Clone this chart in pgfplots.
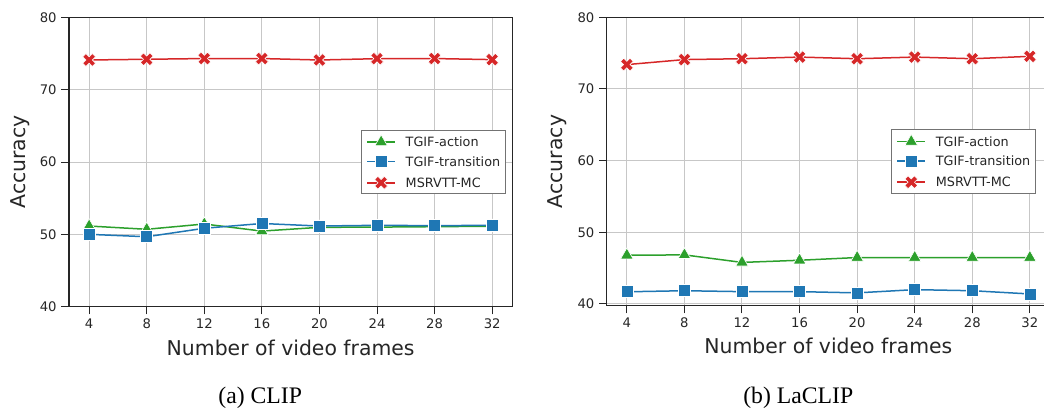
\documentclass[border=0pt]{standalone}
\usepackage{fontspec}
\setmainfont{DejaVu Sans}
\newfontfamily\capfont{Liberation Serif}
\usepackage{pgfplots}
\pgfplotsset{compat=1.18}
\definecolor{tabgreen}{HTML}{2CA02C}
\definecolor{tabblue}{HTML}{1F77B4}
\definecolor{tabred}{HTML}{D62728}
\pgfdeclareplotmark{Xf}{%
  \pgfpathmoveto{\pgfqpoint{-0.5\pgfplotmarksize}{-\pgfplotmarksize}}%
  \pgfpathlineto{\pgfqpoint{0pt}{-0.5\pgfplotmarksize}}%
  \pgfpathlineto{\pgfqpoint{0.5\pgfplotmarksize}{-\pgfplotmarksize}}%
  \pgfpathlineto{\pgfqpoint{\pgfplotmarksize}{-0.5\pgfplotmarksize}}%
  \pgfpathlineto{\pgfqpoint{0.5\pgfplotmarksize}{0pt}}%
  \pgfpathlineto{\pgfqpoint{\pgfplotmarksize}{0.5\pgfplotmarksize}}%
  \pgfpathlineto{\pgfqpoint{0.5\pgfplotmarksize}{\pgfplotmarksize}}%
  \pgfpathlineto{\pgfqpoint{0pt}{0.5\pgfplotmarksize}}%
  \pgfpathlineto{\pgfqpoint{-0.5\pgfplotmarksize}{\pgfplotmarksize}}%
  \pgfpathlineto{\pgfqpoint{-\pgfplotmarksize}{0.5\pgfplotmarksize}}%
  \pgfpathlineto{\pgfqpoint{-0.5\pgfplotmarksize}{0pt}}%
  \pgfpathlineto{\pgfqpoint{-\pgfplotmarksize}{-0.5\pgfplotmarksize}}%
  \pgfpathclose
  \pgfusepathqfillstroke}

\pgfplotstableread{
x action transition msrvtt
4  51.15 50.00 74.10
8  50.70 49.67 74.20
12 51.43 50.84 74.30
16 50.45 51.50 74.30
20 50.97 51.15 74.10
24 51.00 51.25 74.28
28 51.06 51.20 74.30
32 51.12 51.25 74.15
}\clipdata
\pgfplotstableread{
x action transition msrvtt
4  46.80 41.70 73.40
8  46.85 41.85 74.10
12 45.80 41.72 74.22
16 46.10 41.72 74.45
20 46.48 41.55 74.22
24 46.48 42.00 74.45
28 46.48 41.85 74.22
32 46.48 41.40 74.55
}\laclipdata

\pgfplotsset{
  myaxis/.style={
    scale only axis,
    width=221.65pt,
    xmin=2.6, xmax=33.4,
    ymax=80,
    xtick={4,8,...,32},
    ytick={40,50,60,70,80},
    tick align=outside,
    xtick pos=left, ytick pos=left,
    major tick length=3.8pt,
    tick style={black!85, line width=0.5pt},
    grid=major,
    major grid style={draw=black!22, line width=0.5pt},
    axis line style={black!85, line width=0.6pt},
    /pgf/number format/assume math mode=true,
    ticklabel style={font=\fontsize{6.6}{7}\selectfont, text=black!85},
    xticklabel style={inner sep=0pt, yshift=-2.2pt},
    yticklabel style={inner sep=0pt, xshift=-2.2pt},
    label style={font=\fontsize{10.2}{12}\selectfont, text=black!85},
    xlabel={Number of video frames},
    ylabel={Accuracy},
    xlabel style={at={(axis description cs:0.5,-0.1669)}, anchor=base},
    ylabel style={at={(axis description cs:-0.0986,0.5)}, anchor=base},
    legend style={at={(axis description cs:1,0.5)}, xshift=-3.3pt, anchor=east,
      font=\fontsize{6.4}{7}\selectfont, text=black!85,
      draw=black!55, line width=0.5pt, fill=white,
      inner xsep=2.5pt, inner ysep=2.2pt, row sep=4.4pt, column sep=5.0pt,
      nodes={inner sep=0pt, text height=4.7pt, text depth=0pt}},
    legend cell align=left,
    legend image code/.code={\draw[mark repeat=2,mark phase=2] plot coordinates {(0pt,0pt) (6.9pt,0pt) (13.8pt,0pt)};},
  },
  sact/.style={tabgreen, line width=0.75pt, mark=triangle*, mark size=3.6pt, mark options={fill=tabgreen, draw=white, line width=0.3pt, solid}},
  strans/.style={tabblue, line width=0.75pt, mark=square*, mark size=3.0pt, mark options={fill=tabblue, draw=white, line width=0.3pt, solid}},
  smsr/.style={tabred, line width=0.75pt, mark=Xf, mark size=3.2pt, mark options={fill=tabred, draw=white, line width=0.3pt, solid}},
}

\begin{document}
\begin{tikzpicture}
\begin{axis}[myaxis, at={(34.5pt,50.15pt)}, anchor=south west, height=144.7pt, ymin=40]
\addplot[sact] table[x=x,y=action]{\clipdata};
\addlegendentry{TGIF-action}
\addplot[strans] table[x=x,y=transition]{\clipdata};
\addlegendentry{TGIF-transition}
\addplot[smsr] table[x=x,y=msrvtt]{\clipdata};
\addlegendentry{MSRVTT-MC}
\end{axis}
\begin{axis}[myaxis, at={(303.35pt,50.65pt)}, anchor=south west, height=144.2pt, ymin=39.76, legend style={xshift=-3.8pt}]
\addplot[sact] table[x=x,y=action]{\laclipdata};
\addlegendentry{TGIF-action}
\addplot[strans] table[x=x,y=transition]{\laclipdata};
\addlegendentry{TGIF-transition}
\addplot[smsr] table[x=x,y=msrvtt]{\laclipdata};
\addlegendentry{MSRVTT-MC}
\end{axis}
\node[anchor=base, font=\capfont\fontsize{11.85}{14}\selectfont, inner sep=0pt] at (130.1pt,1.85pt) {(a) CLIP};
\node[anchor=base, font=\capfont\fontsize{11.85}{14}\selectfont, inner sep=0pt] at (399.15pt,1.85pt) {(b) LaCLIP};
\pgfresetboundingbox
\useasboundingbox (0,0) rectangle (522pt,203.5pt);
\end{tikzpicture}
\end{document}
